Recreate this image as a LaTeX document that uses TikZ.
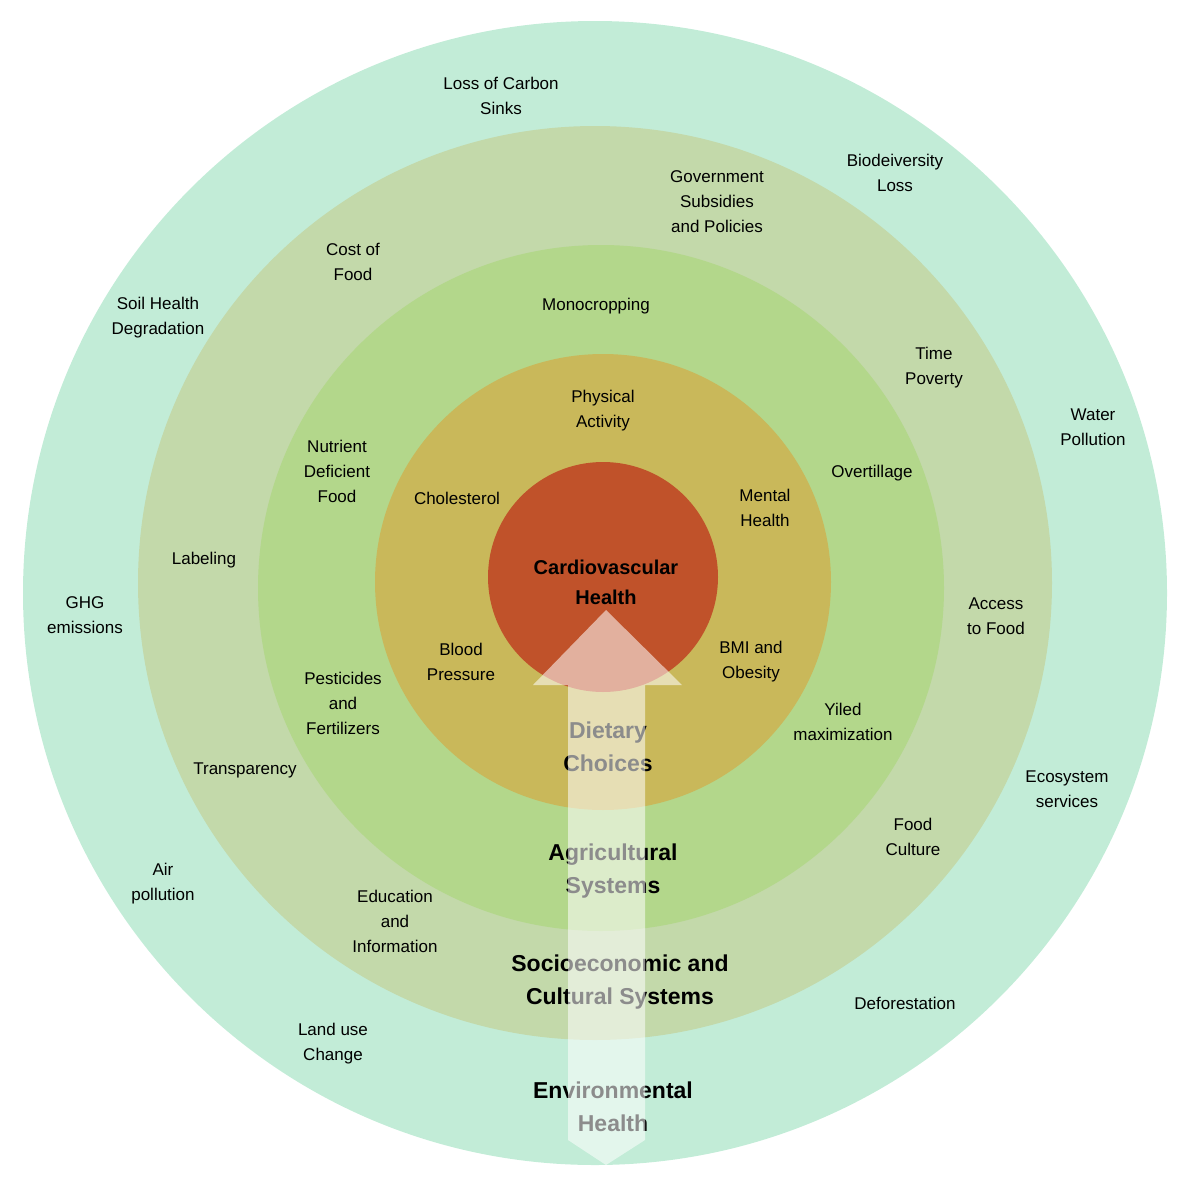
\documentclass[tikz,border=0pt]{standalone}
\usepackage{fontspec}
\setmainfont{Liberation Sans}
\begin{document}
\begin{tikzpicture}[x=1pt,y=-1pt,
  lab/.style={align=center,font=\fontsize{17}{25}\selectfont,inner sep=0},
  big/.style={align=center,font=\fontsize{23}{33}\selectfont\bfseries,inner sep=0}]
\useasboundingbox (0,0) rectangle (1200,1184);
\fill[fill={rgb,255:red,194;green,236;blue,215}] (595,593) circle (572);
\fill[fill={rgb,255:red,195;green,217;blue,170}] (595,583) circle (457);
\fill[fill={rgb,255:red,179;green,215;blue,139}] (601,588) circle (343);
\fill[fill={rgb,255:red,201;green,184;blue,90}] (603,582) circle (228);
\fill[fill={rgb,255:red,192;green,82;blue,42}] (603,577) circle (115);
\node[lab] (n1) at (501,96) {Loss of Carbon\\Sinks};
\node[lab] (n2) at (895,173) {Biodeiversity\\Loss};
\node[lab] (n3) at (717,202) {Government\\Subsidies\\and Policies};
\node[lab] (n4) at (353,262) {Cost of\\Food};
\node[lab] (n5) at (158,318) {Soil Health\\Degradation};
\node[lab] (n6) at (596,306) {Monocropping};
\node[lab] (n7) at (934,368) {Time\\Poverty};
\node[lab] (n8) at (1093,427) {Water\\Pollution};
\node[lab] (n9) at (603,411) {Physical\\Activity};
\node[lab] (n10) at (337,471) {Nutrient\\Deficient\\Food};
\node[lab] (n11) at (872,473) {Overtillage};
\node[lab] (n12) at (457,498) {Cholesterol};
\node[lab] (n13) at (765,508) {Mental\\Health};
\node[align=center,inner sep=0,font=\fontsize{20}{30}\selectfont\bfseries] (n14) at (606,582) {Cardiovascular\\Health};
\node[lab] (n15) at (204,560) {Labeling};
\node[lab] (n16) at (85,615) {GHG\\emissions};
\node[lab] (n17) at (996,616) {Access\\to Food};
\node[lab] (n18) at (461,662) {Blood\\Pressure};
\node[lab] (n19) at (751,662) {BMI and\\Obesity};
\node[lab] (n20) at (343,703) {Pesticides\\and\\Fertilizers};
\node[lab] (n21) at (843,722) {Yiled\\maximization};
\node[big] (n22) at (608,747) {Dietary\\Choices};
\node[lab] (n23) at (245,770) {Transparency};
\node[lab] (n24) at (1067,789) {Ecosystem\\services};
\node[lab] (n25) at (913,837) {Food\\Culture};
\node[big] (n26) at (613,871) {Agricultural\\Systems};
\node[lab] (n27) at (163,884) {Air\\pollution};
\node[lab] (n28) at (395,921) {Education\\and\\Information};
\node[big] (n29) at (620,982) {Socioeconomic and\\Cultural Systems};
\node[lab] (n30) at (905,1003) {Deforestation};
\node[lab] (n31) at (333,1044) {Land use\\Change};
\node[big] (n32) at (613,1107) {Environmental\\Health};
\fill[white,opacity=0.55] (606,610) -- (682,685) -- (645,685) -- (645,1140) -- (606,1165) -- (568,1140) -- (568,685) -- (533,685) -- cycle;
\end{tikzpicture}
\end{document}
